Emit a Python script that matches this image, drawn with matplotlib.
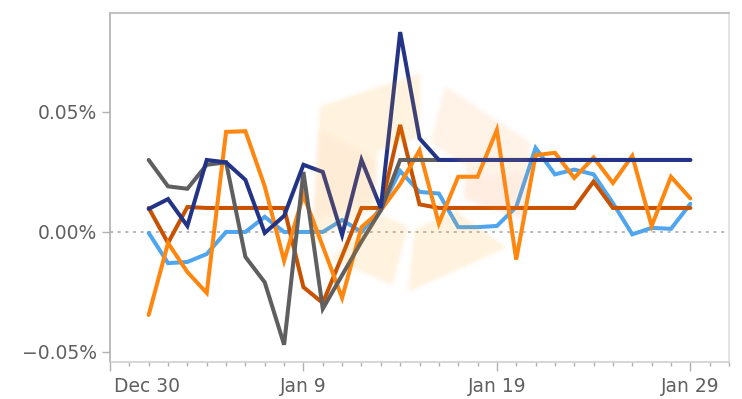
import matplotlib
matplotlib.use("Agg")
import matplotlib.pyplot as plt
import matplotlib.dates as mdates
import matplotlib.transforms as mtransforms
from matplotlib.path import Path
from matplotlib.colors import to_rgb
from matplotlib.ticker import FixedLocator, FuncFormatter
import numpy as np
import pandas as pd

# daily returns, in percent
dates = pd.date_range("2025-01-01", "2025-01-29", freq="D")

light_blue = [-0.0004, -0.013, -0.0125, -0.0092, 0.000, 0.000, 0.0063, 0.000, 0.000, 0.000,
              0.005, 0.000, 0.010, 0.0254, 0.0167, 0.016, 0.002, 0.002, 0.0025, 0.0104,
              0.035, 0.024, 0.026, 0.024, 0.012, -0.001, 0.0017, 0.0013, 0.0117]
dark_orange = [0.010, -0.0046, 0.0104, 0.010, 0.010, 0.010, 0.010, 0.010, -0.023, -0.0296,
               -0.010, 0.010, 0.010, 0.0446, 0.0115, 0.010, 0.010, 0.010, 0.010, 0.010,
               0.010, 0.010, 0.010, 0.021, 0.010, 0.010, 0.010, 0.010, 0.010]
orange = [-0.0346, -0.0046, -0.0167, -0.0254, 0.0417, 0.042, 0.019, -0.012, 0.0154, -0.006,
          -0.0275, 0.002, 0.009, 0.020, 0.034, 0.0035, 0.023, 0.023, 0.0425, -0.0115,
          0.032, 0.033, 0.0225, 0.031, 0.0204, 0.0317, 0.0025, 0.023, 0.014]
gray = [0.030, 0.019, 0.018, 0.028, 0.029, -0.0104, -0.021, -0.047, 0.025, -0.032,
        -0.018, -0.004, 0.009, 0.030, 0.030, 0.030, 0.030, 0.030, 0.030, 0.030,
        0.030, 0.030, 0.030, 0.030, 0.030, 0.030, 0.030, 0.030, 0.030]
navy = [0.0096, 0.0137, 0.0025, 0.030, 0.029, 0.0217, -0.0004, 0.0067, 0.028, 0.025,
        -0.0013, 0.030, 0.010, 0.0833, 0.039, 0.030, 0.030, 0.030, 0.030, 0.030,
        0.030, 0.030, 0.030, 0.030, 0.030, 0.030, 0.030, 0.030, 0.030]

series = [
    (light_blue, "#4fa5ee"),
    (dark_orange, "#c85200"),
    (orange, "#ff870f"),
    (gray, "#5f5f5f"),
    (navy, "#233487"),
]

tick_dates = pd.to_datetime(["2024-12-30", "2025-01-09", "2025-01-19", "2025-01-29"])
y_ticks = [-0.05, 0.0, 0.05]

W, H = 742, 399
fig = plt.figure(figsize=(W / 100, H / 100), dpi=100)
ax = fig.add_axes([110 / W, (H - 362) / H, 619 / W, 349 / H])

ax.axhline(0, color="#a8a8a8", lw=1.1, ls=(0, (2, 3)), zorder=1)

for vals, col in series:
    ax.plot(dates, vals, color=col, lw=2.9, solid_joinstyle="miter",
            solid_capstyle="round", zorder=3)

ax.set_xlim(mdates.date2num(pd.Timestamp("2024-12-30")),
            mdates.date2num(pd.Timestamp("2025-01-31")))
ax.set_ylim(-0.0542, 0.09125)

ax.xaxis.set_major_locator(FixedLocator(mdates.date2num(tick_dates)))
ax.xaxis.set_major_formatter(FuncFormatter(
    lambda v, p: "{:%b} {}".format(mdates.num2date(v), mdates.num2date(v).day)))
ax.xaxis.set_minor_locator(mdates.DayLocator())
ax.set_yticks(y_ticks)
ax.yaxis.set_major_formatter(FuncFormatter(lambda v, p: "{:.2f}%".format(v).replace("-", "\u2212")))

tc = "#b0b0b0"
ax.tick_params(axis="x", which="major", length=6.5, width=1, color=tc, pad=4.5,
               labelsize=13.5, labelcolor="#606060")
ax.tick_params(axis="x", which="minor", length=2.6, width=1, color=tc)
ax.tick_params(axis="y", which="major", length=5.8, width=1, color=tc, pad=3.5,
               labelsize=13.5, labelcolor="#606060")

ax.spines["left"].set_color("#b0b0b0")
ax.spines["top"].set_color("#b8b8b8")
ax.spines["right"].set_color("#dedede")
ax.spines["bottom"].set_color("#cfcfcf")
for s in ax.spines.values():
    s.set_linewidth(1.2)

# first date label sits flush with the left edge
first = ax.get_xticklabels()[0]
first.set_horizontalalignment("left")
first.set_transform(first.get_transform() +
                    mtransforms.ScaledTranslation(4 / 100, 0, fig.dpi_scale_trans))

# faint hexagon logo laid over the plot (pixel coords, y down)
outer = np.array([(320, 106), (424, 72), (530, 142), (524, 240), (408, 292), (311, 250)], float)
centre = outer.mean(axis=0)
inner = centre + 0.42 * (outer - centre)


def band(side0, t0, side1, t1):
    # ring segment running from fraction t0 of side0 to fraction t1 of side1
    n = len(outer)
    def at(pts, i, t):
        return pts[i % n] + t * (pts[(i + 1) % n] - pts[i % n])
    o = [at(outer, side0, t0)] + [outer[(i + 1) % n] for i in range(side0, side1)] + [at(outer, side1, t1)]
    q = [at(inner, side0, t0)] + [inner[(i + 1) % n] for i in range(side0, side1)] + [at(inner, side1, t1)]
    return np.array(o + q[::-1])


pieces = [
    (band(5, 0.05, 6, 0.96), "#ffa000", 0.13),
    (band(1, 0.2, 2, 0.8), "#ff9a40", 0.12),
    (band(3, 0.15, 3, 1.0), "#ffa000", 0.13),
    (band(4, 0.16, 4, 0.8), "#ffa000", 0.13),
    (band(5, 0.2, 5, 0.85), "#ff6040", 0.04),
    (band(2, 0.3, 2, 0.8), "#ff6040", 0.035),
]

yy, xx = np.mgrid[0:H, 0:W]
grid = np.column_stack([xx.ravel() + 0.5, yy.ravel() + 0.5])
k = np.ones(5) / 5.0


def soften(m):
    for _ in range(2):
        m = np.apply_along_axis(lambda r: np.convolve(r, k, mode="same"), 0, m)
        m = np.apply_along_axis(lambda r: np.convolve(r, k, mode="same"), 1, m)
    return m


rgb = np.zeros((H, W, 3))
alpha = np.zeros((H, W))
for pts, col, a in pieces:
    m = Path(pts).contains_points(grid).reshape(H, W).astype(float)
    m = soften(m) * a
    c = np.array(to_rgb(col))
    # composite this piece over what is already there
    new_a = m + alpha * (1 - m)
    rgb = (c * m[..., None] + rgb * (alpha * (1 - m))[..., None]) / np.maximum(new_a, 1e-9)[..., None]
    alpha = new_a

fig.figimage(np.dstack([rgb, alpha]), xo=0, yo=0, origin="upper", zorder=10)

fig.savefig("out.png", dpi=100)
